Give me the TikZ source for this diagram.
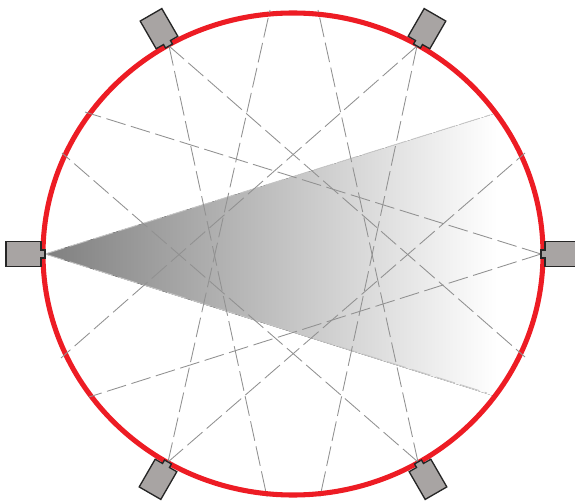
\documentclass[tikz,border=0pt]{standalone}
\usepackage{tikz}
\usetikzlibrary{calc}

\definecolor{ringred}{RGB}{237,28,36}
\definecolor{bodygray}{RGB}{168,164,163}

\begin{document}
\begin{tikzpicture}[
    x=0.75pt, y=-0.75pt,
    ray/.style={draw=black!43, dash pattern=on 15pt off 4.2pt, line width=0.65pt},
    faintray/.style={ray, draw=black!22},
    ring/.style={draw=ringred, line width=3.8pt},
    cambody/.style={draw=black!85, line width=1pt, fill=bodygray, line join=miter},
    beam/.style={left color=black!50, right color=white, draw=none},
  ]
  \useasboundingbox (0,0) rectangle (575,502);

  % sensors around the ring
  \coordinate (camw) at (45,254);
  \coordinate (came) at (541,254);
  \coordinate (camnw) at (169,46);
  \coordinate (camne) at (417,46);
  \coordinate (camsw) at (168,462);
  \coordinate (camse) at (418,462);

  % far ends of the rays
  \coordinate (endwa) at (490,115);
  \coordinate (endwb) at (487,393);
  \coordinate (endea) at (85,112);
  \coordinate (endeb) at (89,397);
  \coordinate (endnwa) at (267,497);
  \coordinate (endnwb) at (525,357);
  \coordinate (endnea) at (320,497);
  \coordinate (endneb) at (61,358);
  \coordinate (endswa) at (270,10);
  \coordinate (endswb) at (525,153);
  \coordinate (endsea) at (318,10);
  \coordinate (endseb) at (62,153);

  \fill[beam] (camw) -- (497,113) -- (497,397) -- cycle;
  \fill[white] (495.5,105) rectangle (500,405);

  \draw[ring] (293,254) ellipse (250 and 241);

  \draw[faintray] (camw) -- (endwa);
  \draw[faintray] (camw) -- (endwb);
  \draw[ray] (came) -- (endea);
  \draw[ray] (came) -- (endeb);
  \draw[ray] (camnw) -- (endnwa);
  \draw[ray] (camnw) -- (endnwb);
  \draw[ray] (camne) -- (endnea);
  \draw[ray] (camne) -- (endneb);
  \draw[ray] (camsw) -- (endswa);
  \draw[ray] (camsw) -- (endswb);
  \draw[ray] (camse) -- (endsea);
  \draw[ray] (camse) -- (endseb);

  % one camera, drawn pointing along +x from its tip
  \foreach \pos/\ang/\len in {camw/0/39, came/180/39, camnw/-60/36, camne/-120/36, camsw/60/36, camse/120/36} {
    \draw[cambody, shift={(\pos)}, rotate=\ang]
      (0,-4) -- (-4,-4) -- (-4,-12.5) -- (-\len,-12.5) -- (-\len,12.5)
      -- (-4,12.5) -- (-4,4) -- (0,4) -- cycle;
  }
\end{tikzpicture}
\end{document}
